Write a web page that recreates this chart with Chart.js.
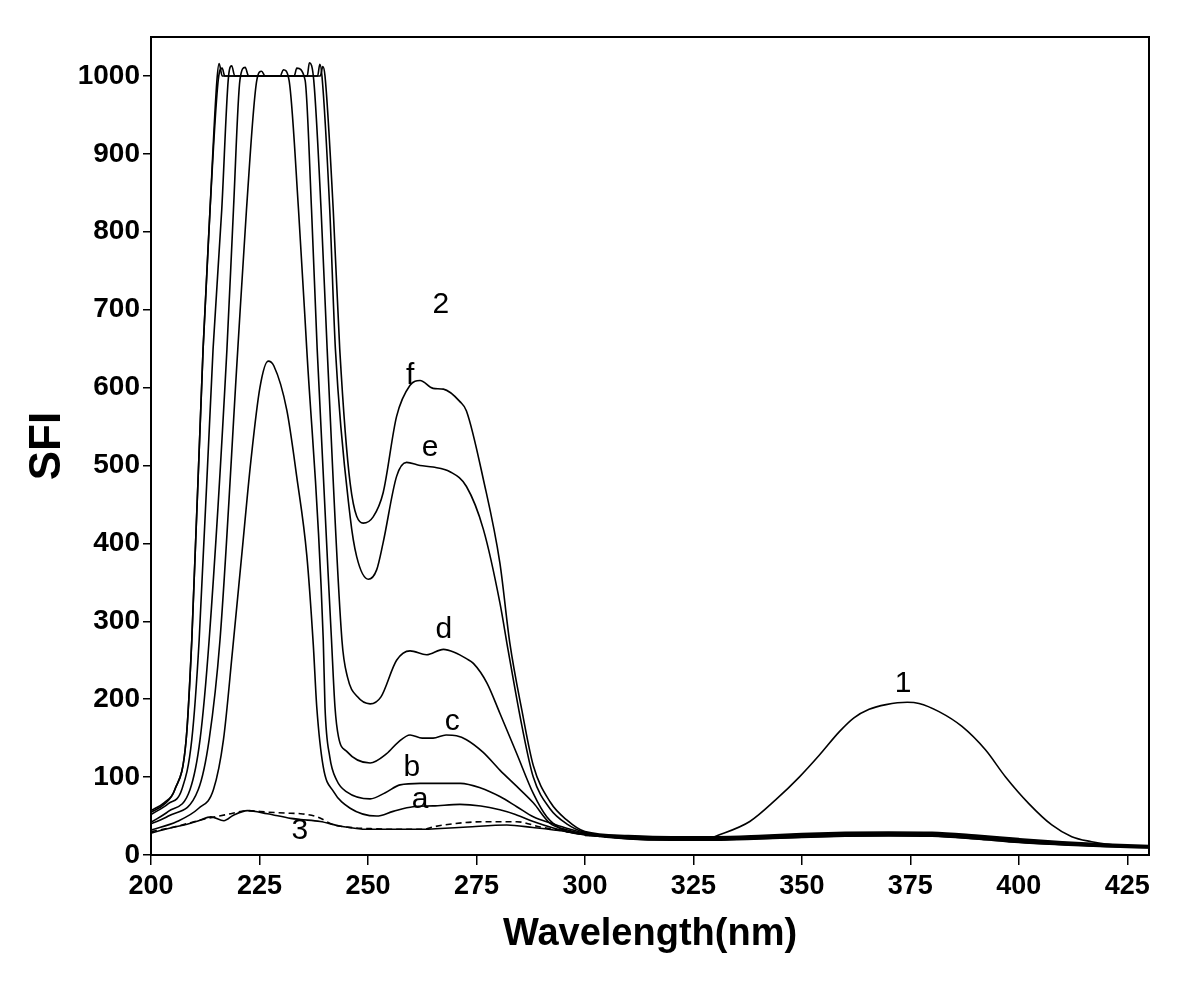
<!DOCTYPE html>
<html>
<head>
<meta charset="utf-8">
<script src="https://cdn.jsdelivr.net/npm/chart.js@4.4.1/dist/chart.umd.min.js"></script>
<style>
  html, body { margin: 0; padding: 0; background: #fff; }
  #wrap { width: 1200px; height: 981px; position: relative; }
</style>
</head>
<body>
<div id="wrap"><canvas id="c"></canvas></div>
<script>
// ---- data (wavelength in nm, SFI) ----
const xTicks = [200, 225, 250, 275, 300, 325, 350, 375, 400, 425];
const yTicks = [0, 100, 200, 300, 400, 500, 600, 700, 800, 900, 1000];

const fX = [200,203,205.5,208.1,209.4,212.0,213.6,215.2,215.7,216.4,225,239.0,239.6,240.1,242.0,243.5,245.9,248.9,251.2,253.5,256.6,259.7,262,265,267.4,271.2,272.7,276.6,280.4,282.7,285.5,288.1,292,295.8,300,310,320,330,340,350,360,370,380,390,400,410,420,430];
const fY = [57,67,84,148,276,649,828,995,1016,1000,1000,1000,1012,1000,828,649,477,426,434,465,563,603,609,599,598,582,570,482,375,272,185,115,68,45,30,25,23.5,23.5,25,27.5,29,29.5,29,25.5,21,17,14,12];

const eX = [200,203,205.5,208.1,209.4,212.0,213.6,215.5,216.4,217,238.4,238.9,239.4,241.2,242.5,245.9,247.4,250.1,252,253.5,256.6,258.9,262,265,268.9,272.7,276.6,280.4,282.3,285.5,288.1,292,295.8,300,310,320,330,340,350,360,370,380,390,400,410,420,430];
const eY = [55,65,84,148,276,649,828,995,1010,1000,1000,1015,1000,828,649,434,383,354,366,401,486,504,500,498,492,473,418,324,263,165,100,59,40,29,24,22.5,22.5,24,26.5,28,28.5,28,24.5,20,16,13,11];

const dX = [200,204,207.1,209.4,211.1,214.3,216.3,217.8,218.6,219.3,236.0,236.5,237.5,239.2,240.6,244.0,245.3,247.6,250.5,253,256.6,259.7,263.5,267.4,270,272.7,274.3,277.4,280.4,284.3,288.1,291.2,295,300,310,320,330,340,350,360,370,380,390,400,410,420,430];
const dY = [52,66,84,148,276,649,828,995,1013,1000,1000,1017,995,828,649,276,228,203,194,203,250,262,257,264,260,252,246,221,182,130,79,49,32,26,23.5,22,22,23.5,25.5,27,27.5,27,23.5,19,15.5,13,11];

const cX = [200,204,209.0,211.3,213.4,217.5,219.0,220.5,221.7,222.5,233.0,233.6,235.5,237.0,238.3,241.6,242.4,243.2,245.1,250.5,254.3,257,259.7,262.5,265,268,270.4,272.7,276.5,280.4,284.3,288.1,291.9,296,300,310,320,330,340,350,360,370,380,390,400,410,420,430];
const cY = [42,56,84,148,276,649,828,995,1011,1000,1000,1010,995,828,649,276,190,152,133,118,130,145,154,150,150,154,153,148,132,109,88,67,41,32,27,23,21.5,21.5,23,25,26.5,27,26.5,23,18.5,15,12.5,10.5];

const bX = [200,204,210.9,213.4,215.9,220.0,222.0,224.4,225.5,226.3,229.8,230.5,231.8,234.0,235.9,239.7,240.1,241.2,242.8,245.1,250.5,254,257.4,262,267.4,271.3,276,280.4,284.3,288.1,292.7,296,300,310,320,330,340,350,360,370,380,390,400,410,420,430];
const bY = [40,50,84,148,276,649,828,995,1006,1000,1000,1008,995,828,649,276,190,126,96,81,72,80,90,92,92,92,86,75,62,49,40,34,28,22,20.5,20.5,22,24,25.5,26,25.5,22,17.5,14,11.5,10];

const aX = [200,206,211,214.4,216.7,218.8,221.0,223.0,225.1,227.0,228.3,231.3,233.6,235.9,237.4,238.2,239.7,242,245.9,252.0,255.8,260.4,265,271.2,276,280.4,284,288.1,292.7,296,300,310,320,330,340,350,360,370,380,390,400,410,420,430];
const aY = [32,43,60,84,148,263,390,505,600,634,628,571,485,385,270,190,113,82,60,50,56,62,63,65,63,58,52,43,34.6,30,27,21,19.5,19.5,21,23,24.5,25,24.5,21,16.5,13.5,11,9.5];

const s3X = [200,204,207.6,211,213.8,216.8,219,222.2,226.8,232.2,234.5,239,243.7,250,259,262.8,266.7,272.9,282,288,295.9,300,310,320,330,340,350,360,370,380,390,400,410,420,430];
const s3Y = [28,34,38.6,44,49,44,51,57,53,47,45.6,43,37,33,33,33,34,36,38.5,35.3,30,26,20.5,19,19,20.5,22.5,24,24.5,24,20.5,16,13,10.5,9];

const s3dX = [200,205.3,213,218.4,222.2,227,232.2,234.5,238.3,242,246.7,250,256,262.8,265,267.4,276.6,284.3,289.7,295.9,300,310,320,330,340,350,360,370,380,390,400,410,420,430];
const s3dY = [30,36,47,53,57,55,53.5,53,49,39,35,34,33,33,36,38.5,42.7,42.7,36,30,26,21.5,20,20,21.5,23.5,25,25.5,25,21.5,17,14,11.5,10];

const c1X = [300,310,320,328,331,338,344,349.4,354,358.6,362,365.5,369.4,374.3,377,381.6,386.9,392.3,396.9,402.3,407.6,412.2,416.8,420,425,430];
const c1Y = [25,22.5,21,21,26,43,71,100,128,158,176,187,193,196,194.5,184,165,135,100.5,66,38.6,23.5,17,14,12,10.5];

const curveLabels = ['1', '2', 'f', 'e', 'd', 'c', 'b', 'a', '3'];
const labelX = [373.3, 266.8, 259.7, 264.3, 267.5, 269.4, 260.1, 262.0, 234.3];
const labelY = [219.5, 706, 615, 522.5, 289, 171, 112, 70.6, 31];

// ---- build ----
function pts(xs, ys) { return xs.map((x, i) => ({ x: x, y: ys[i] })); }
function ds(label, xs, ys, dash) {
  return {
    label: label, data: pts(xs, ys), borderColor: '#000', borderWidth: 1.6,
    pointRadius: 0, fill: false, cubicInterpolationMode: 'monotone',
    borderDash: dash || []
  };
}

const frame = {
  id: 'frame',
  afterDatasetsDraw(chart) {
    const { ctx, chartArea: a, scales: { x, y } } = chart;
    ctx.save();
    ctx.strokeStyle = '#000';
    ctx.lineWidth = 2;
    ctx.strokeRect(a.left, a.top, a.right - a.left, a.bottom - a.top);
    ctx.font = '30px "Liberation Sans", Arial, sans-serif';
    ctx.fillStyle = '#000';
    ctx.textAlign = 'center';
    ctx.textBaseline = 'middle';
    curveLabels.forEach((t, i) => {
      ctx.fillText(t, x.getPixelForValue(labelX[i]), y.getPixelForValue(labelY[i]));
    });
    ctx.restore();
  }
};

const sans = '"Liberation Sans", Arial, sans-serif';

new Chart(document.getElementById('c'), {
  type: 'line',
  data: {
    datasets: [
      ds('f', fX, fY), ds('e', eX, eY), ds('d', dX, dY), ds('c', cX, cY),
      ds('b', bX, bY), ds('a', aX, aY), ds('3', s3X, s3Y), ds('3 dashed', s3dX, s3dY, [6, 4]),
      ds('1', c1X, c1Y)
    ]
  },
  options: {
    responsive: true,
    maintainAspectRatio: false,
    animation: false,
    layout: { padding: { left: 0, right: 51, top: 37, bottom: 0 } },
    plugins: { legend: { display: false }, tooltip: { enabled: false } },
    scales: {
      x: {
        type: 'linear', min: 200, max: 430,
        afterBuildTicks: s => { s.ticks = xTicks.map(v => ({ value: v })); },
        afterFit: s => { s.height = 126; },
        ticks: { color: '#000', font: { family: sans, size: 27, weight: 'bold' }, maxRotation: 0, autoSkip: false, padding: 5, callback: v => String(v) },
        grid: { display: true, drawOnChartArea: false, drawTicks: true, tickLength: 10, color: '#000', lineWidth: 1.5 },
        border: { display: true, color: '#000', width: 2 },
        title: { display: true, text: 'Wavelength(nm)', color: '#000', font: { family: sans, size: 38, weight: 'bold' }, padding: { top: 0, bottom: 24 } }
      },
      y: {
        type: 'linear', min: 0, max: 1050,
        afterBuildTicks: s => { s.ticks = yTicks.map(v => ({ value: v })); },
        afterFit: s => { s.width = 151; },
        ticks: { color: '#000', font: { family: sans, size: 28, weight: 'bold' }, padding: 3, callback: v => String(v) },
        grid: { display: true, drawOnChartArea: false, drawTicks: true, tickLength: 8, color: '#000', lineWidth: 1.5 },
        border: { display: true, color: '#000', width: 2 },
        title: { display: true, text: 'SFI', color: '#000', font: { family: sans, size: 44, weight: 'bold' }, padding: { top: 21, bottom: 0 } }
      }
    }
  },
  plugins: [frame]
});
</script>
</body>
</html>
